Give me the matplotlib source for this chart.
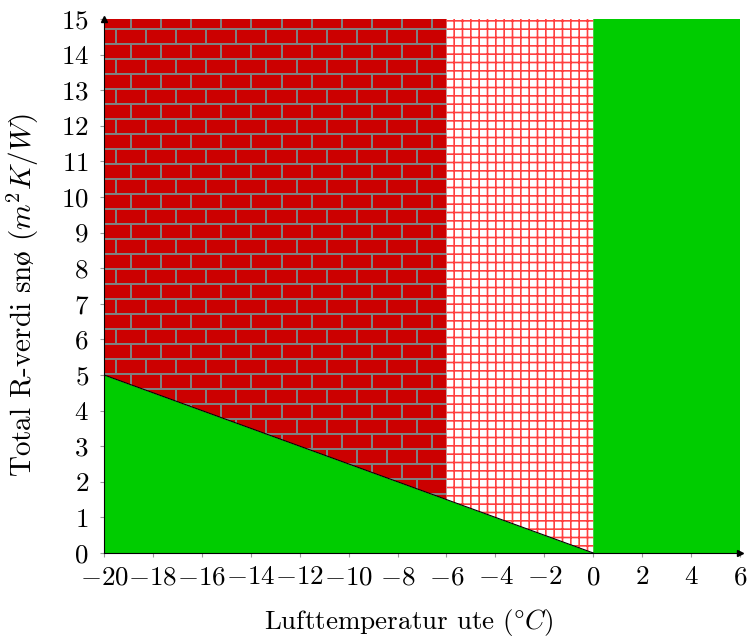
import matplotlib
matplotlib.use('Agg')
import matplotlib.pyplot as plt
import numpy as np

# Data
line_x = [-20, 0]          # grense (R-verdi) mellom områdene
line_y = [5, 0]
brick_x = [-20, -6]        # murstein-område
grid_x = [-6, 0]           # rutenett-område
safe_x = [0, 6]            # grønt over 0 grader
x_lim = [-20, 6]
y_lim = [0, 15]
x_ticks = list(range(-20, 7, 2))
y_ticks = list(range(0, 16))

plt.rcParams['font.family'] = ['cmr10', 'DejaVu Serif']
plt.rcParams['mathtext.fontset'] = 'cm'
plt.rcParams['axes.formatter.use_mathtext'] = True
plt.rcParams['hatch.linewidth'] = 1.2

green = '#00CC00'
red = '#CC0000'

def boundary(x):
    return np.interp(x, line_x, line_y)

fig = plt.figure(figsize=(7.49, 6.37), dpi=100)
ax = fig.add_axes([0.1389, 0.1319, 0.8491, 0.8383])

# green below the line and right of 0
xs = np.linspace(line_x[0], line_x[1], 50)
ax.fill_between(xs, 0, boundary(xs), color=green, lw=0, zorder=1)
ax.fill_between(safe_x, y_lim[0], y_lim[1], color=green, lw=0, zorder=1)

# grid hatched region
xg = np.linspace(grid_x[0], grid_x[1], 20)
ax.fill_between(xg, boundary(xg), y_lim[1], facecolor='white',
                edgecolor=(1, 0, 0, 0.75), hatch='++', lw=0, zorder=1)

# brick region: image clipped to polygon
xb = np.linspace(brick_x[0], brick_x[1], 20)
poly = ax.fill_between(xb, boundary(xb), y_lim[1], facecolor='none', lw=0, zorder=1)
w_px, h_px = 342, 534
img = np.zeros((h_px, w_px, 3))
img[:, :] = np.array([0xCC, 0, 0]) / 255
mortar = np.array([0x80, 0x80, 0x80]) / 255
pitch_h, pitch_w = 15, 30
for r in range(h_px):
    rr = (r - 9) % pitch_h
    row_idx = (r - 9) // pitch_h
    if rr < 2:
        img[r, :] = mortar
        continue
    off = 11 if row_idx % 2 == 0 else 26
    for c in range(w_px):
        if (c - off) % pitch_w < 2:
            img[r, c] = mortar
im = ax.imshow(img, extent=[brick_x[0], brick_x[1], y_lim[0], y_lim[1]],
               origin='upper', aspect='auto', interpolation='nearest', zorder=1)
im.set_clip_path(poly.get_paths()[0], transform=ax.transData)

ax.plot(line_x, line_y, color='black', lw=0.8, zorder=2)

ax.set_xlim(x_lim)
ax.set_ylim(y_lim)
ax.set_xticks(x_ticks)
ax.set_yticks(y_ticks)
ax.set_xticklabels([f'${t}$' if t >= 0 else f'$-{abs(t)}$' for t in x_ticks])
ax.set_yticklabels([f'${t}$' for t in y_ticks])
ax.tick_params(labelsize=19.5, direction='out', length=3, width=0.8, color='#999999')
ax.tick_params(axis='x', pad=6)
ax.tick_params(axis='y', pad=8)
ax.spines['top'].set_visible(False)
ax.spines['right'].set_visible(False)
for s in ['left', 'bottom']:
    ax.spines[s].set_linewidth(0.8)
    ax.spines[s].set_zorder(3)
ax.plot(1, 0, '>k', ms=5, transform=ax.transAxes, clip_on=False, zorder=4)
ax.plot(0, 1, '^k', ms=5, transform=ax.transAxes, clip_on=False, zorder=4)

ax.set_xlabel(r'Lufttemperatur ute ($\degree C$)', fontsize=19.5)
ax.set_ylabel(r'Total R-verdi sn$\mathrm{ø}$ ($m^2K/W$)', fontsize=21)
ax.xaxis.set_label_coords(0.4796, -0.101)
ax.yaxis.set_label_coords(-0.099, 0.483)

fig.savefig('out.png', dpi=100)
